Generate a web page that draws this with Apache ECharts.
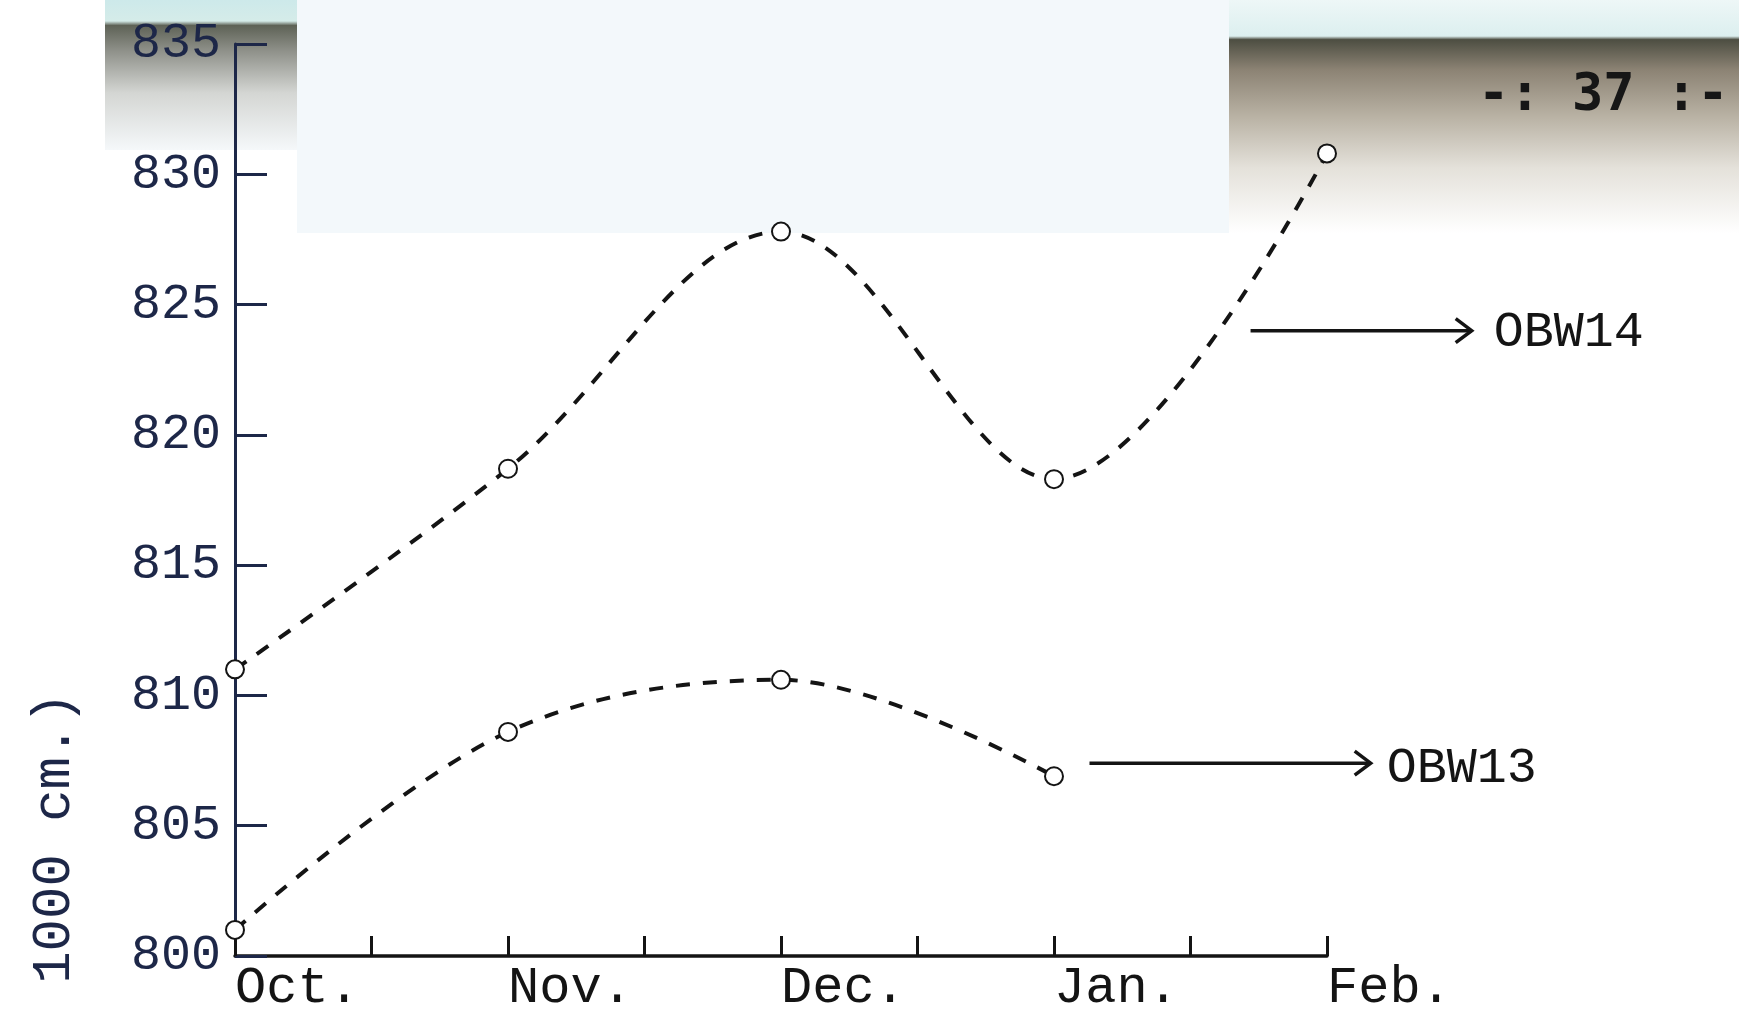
<!DOCTYPE html>
<html>
<head>
<meta charset="utf-8">
<script src="https://cdn.jsdelivr.net/npm/echarts@6/dist/echarts.min.js"></script>
<style>
  html, body { margin: 0; padding: 0; background: #ffffff; }
  #chart { width: 1739px; height: 1018px; }
</style>
</head>
<body>
<div id="chart"></div>
<script>
// ---- data ----
const monthLabels = ['Oct.', 'Nov.', 'Dec.', 'Jan.', 'Feb.'];
const obw14 = [811.0, 818.7, 827.8, 818.3, 830.8];
const obw13 = [801.0, 808.6, 810.6, 806.9];
const seriesNames = ['OBW14', 'OBW13'];
const yAxisTitle = '1000 cm.)';
const pageNumber = '-: 37 :-';

const chart = echarts.init(document.getElementById('chart'), null, { renderer: 'canvas' });

const INK = '#141414';
const NAVY = '#1d2748';
const MONO = '"Liberation Mono", "DejaVu Sans Mono", monospace';

function lineSeries(name, values) {
  return {
    name: name,
    type: 'line',
    data: values.map((v, i) => [i, v]),
    smooth: 0.35,
    symbol: 'emptyCircle',
    symbolSize: 18,
    lineStyle: { color: INK, width: 4, type: [14, 13] },
    itemStyle: { color: INK, borderColor: INK, borderWidth: 3.5 },
    z: 5
  };
}

chart.setOption({
  animation: false,
  backgroundColor: '#ffffff',
  grid: { left: 235, right: 412, top: 44, bottom: 62, containLabel: false },
  xAxis: {
    type: 'value',
    min: 0,
    max: 4,
    interval: 0.5,
    axisLine: { show: true, lineStyle: { color: INK, width: 3.5 } },
    axisTick: { show: true, inside: true, length: 20, lineStyle: { color: INK, width: 3 } },
    axisLabel: {
      margin: 6,
      align: 'left',
      fontFamily: MONO,
      fontSize: 52,
      color: INK,
      formatter: function (v) { return Number.isInteger(v) ? monthLabels[v] : ''; }
    },
    splitLine: { show: false }
  },
  yAxis: {
    type: 'value',
    min: 800,
    max: 835,
    interval: 5,
    axisLine: { show: true, lineStyle: { color: NAVY, width: 3 } },
    axisTick: { show: true, inside: true, length: 32, lineStyle: { color: NAVY, width: 3 } },
    axisLabel: {
      margin: 14,
      fontFamily: MONO,
      fontSize: 50,
      color: NAVY
    },
    splitLine: { show: false }
  },
  series: [lineSeries(seriesNames[0], obw14), lineSeries(seriesNames[1], obw13)]
});

// ---- annotations positioned through the chart's own scales ----
function px(x, y) { return chart.convertToPixel({ gridIndex: 0 }, [x, y]); }

function arrow(from, to) {
  const y = to[1];
  return [
    { type: 'line', shape: { x1: from[0], y1: from[1], x2: to[0], y2: y },
      style: { stroke: INK, lineWidth: 3.5 }, z: 20 },
    { type: 'polyline', shape: { points: [[to[0] - 16, y - 12], [to[0], y], [to[0] - 16, y + 12]] },
      style: { stroke: INK, lineWidth: 3.5, fill: null }, z: 20 }
  ];
}

const a14s = px(3.72, 824.0), a14e = px(4.53, 824.0);
const a13s = px(3.13, 807.4), a13e = px(4.16, 807.4);

const graphics = [
  // scan artefacts at the top of the page
  { type: 'rect', shape: { x: 297, y: 0, width: 932, height: 233 },
    style: { fill: '#f3f8fb' }, z: -10 },
  { type: 'rect', shape: { x: 105, y: 0, width: 192, height: 150 },
    style: { fill: { type: 'linear', x: 0, y: 0, x2: 0, y2: 1, colorStops: [
      { offset: 0, color: '#cde9ea' }, { offset: 0.14, color: '#d5ece9' },
      { offset: 0.17, color: '#5e6256' }, { offset: 0.34, color: '#8f918a' },
      { offset: 0.62, color: '#d4d6d3' }, { offset: 1, color: '#f5f8fa' } ] } }, z: -10 },
  { type: 'rect', shape: { x: 1229, y: 0, width: 510, height: 233 },
    style: { fill: { type: 'linear', x: 0, y: 0, x2: 0, y2: 1, colorStops: [
      { offset: 0, color: '#eef7f7' }, { offset: 0.155, color: '#dcefef' },
      { offset: 0.17, color: '#4d4e42' }, { offset: 0.3, color: '#8c8374' },
      { offset: 0.5, color: '#b9b2a4' }, { offset: 0.72, color: '#e4e1da' },
      { offset: 1, color: '#ffffff' } ] } }, z: -10 },
  { type: 'text', x: 1478, y: 96, z: 20,
    style: { text: pageNumber, font: 'bold 52px "DejaVu Sans Mono", monospace',
      fill: '#161616', textAlign: 'left', textVerticalAlign: 'middle' } },
  // y-axis title
  { type: 'text', x: 55, y: 838, rotation: Math.PI / 2, z: 20,
    style: { text: yAxisTitle, font: '54px ' + MONO, fill: NAVY,
      textAlign: 'center', textVerticalAlign: 'middle' } },
  // series labels with arrows
  ...arrow(a14s, a14e),
  { type: 'text', x: a14e[0] + 22, y: a14e[1] + 2, z: 20,
    style: { text: seriesNames[0], font: '50px ' + MONO, fill: INK,
      textAlign: 'left', textVerticalAlign: 'middle' } },
  ...arrow(a13s, a13e),
  { type: 'text', x: a13e[0] + 16, y: a13e[1] + 6, z: 20,
    style: { text: seriesNames[1], font: '50px ' + MONO, fill: INK,
      textAlign: 'left', textVerticalAlign: 'middle' } }
];

chart.setOption({ graphic: { elements: graphics } });
</script>
</body>
</html>
